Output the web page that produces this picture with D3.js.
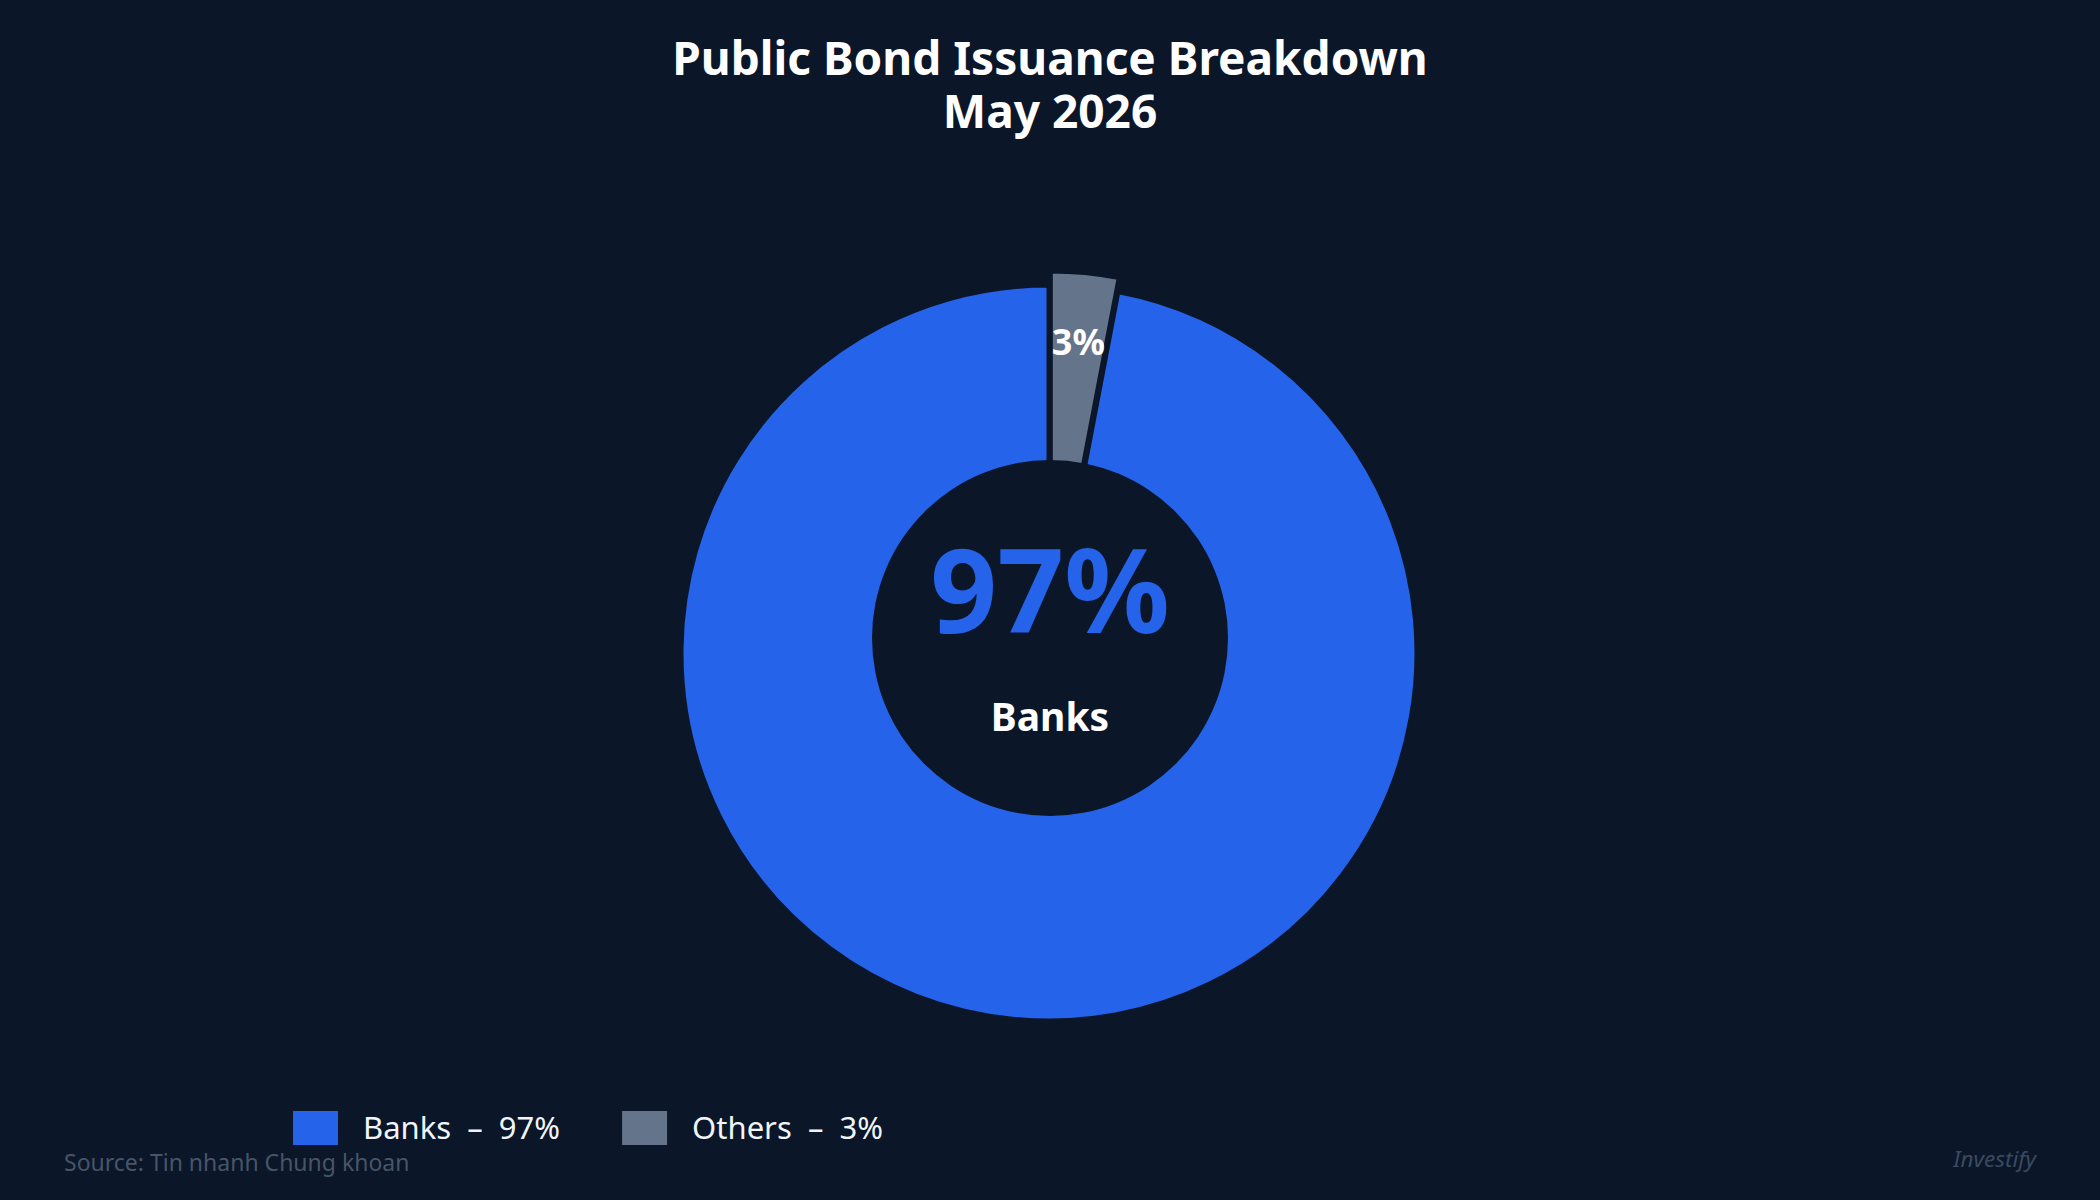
<!DOCTYPE html>
<html>
<head>
<meta charset="utf-8">
<script src="https://cdn.jsdelivr.net/npm/d3@7"></script>
<style>
  html, body { margin: 0; padding: 0; background: #0b1628; }
  svg { display: block; }
  text { font-family: "Noto Sans", "Open Sans", sans-serif; }
</style>
</head>
<body>
<script>
// ---- data ----
const categories = ["Banks", "Others"];
const values = [97, 3];
const colors = ["#2563eb", "#64748b"];
const titleLines = ["Public Bond Issuance Breakdown", "May 2026"];
const centerValue = "97%";
const centerLabel = "Banks";
const sourceText = "Source: Tin nhanh Chung khoan";
const brandText = "Investify";

// ---- layout ----
const W = 2100, H = 1200, BG = "#0b1628";
const cx = 1049, cy = 653, R = 368;
const holeCx = 1050, holeCy = 638, holeR = 178;
const explode = 14;

const svg = d3.select("body").append("svg").attr("width", W).attr("height", H);
svg.append("rect").attr("width", W).attr("height", H).attr("fill", BG);

// title
const title = svg.append("text").attr("text-anchor", "middle")
  .attr("font-size", 46).attr("font-weight", 700).attr("fill", "#ffffff");
title.append("tspan").attr("x", 1050).attr("y", 75).text(titleLines[0]);
title.append("tspan").attr("x", 1050).attr("y", 128).text(titleLines[1]);

const data = categories.map((c, i) => ({ name: c, value: values[i], color: colors[i] }));
const total = d3.sum(values);
const offsetAngle = (values[1] / total) * 2 * Math.PI;
const pie = d3.pie().value(d => d.value).sort(null)
  .startAngle(offsetAngle).endAngle(offsetAngle + 2 * Math.PI);
const arcs = pie(data);
const arc = d3.arc().innerRadius(0).outerRadius(R);
const labelArc = d3.arc().innerRadius(298).outerRadius(298);

const g = svg.append("g").attr("transform", `translate(${cx},${cy})`);
const slices = g.selectAll("g.slice").data(arcs).join("g").attr("class", "slice")
  .attr("transform", d => {
    if (d.data.name === "Others") {
      const a = (d.startAngle + d.endAngle) / 2;
      return `translate(${explode * Math.sin(a)},${-explode * Math.cos(a)})`;
    }
    return null;
  });
slices.append("path").attr("d", arc).attr("fill", d => d.data.color)
  .attr("stroke", BG).attr("stroke-width", 5).attr("stroke-linejoin", "miter");

// hole
svg.append("circle").attr("cx", holeCx).attr("cy", holeCy).attr("r", holeR).attr("fill", BG);

// slice label for small slice
slices.filter(d => d.data.name === "Others").append("text")
  .attr("transform", d => `translate(${labelArc.centroid(d)})`)
  .attr("text-anchor", "middle").attr("dy", "0.35em")
  .attr("font-size", 36).attr("font-weight", 700).attr("fill", "#ffffff")
  .text(d => Math.round(d.value / total * 100) + "%");

// center text
svg.append("text").attr("x", holeCx).attr("y", 633).attr("text-anchor", "middle")
  .attr("font-size", 117).attr("font-weight", 700).attr("fill", colors[0]).text(centerValue);
svg.append("text").attr("x", holeCx).attr("y", 731).attr("text-anchor", "middle")
  .attr("font-size", 39).attr("font-weight", 700).attr("fill", "#ffffff").text(centerLabel);

// legend
const legend = svg.append("g");
let lx = 293;
data.forEach((d, i) => {
  legend.append("rect").attr("x", lx).attr("y", 1111).attr("width", 45).attr("height", 34).attr("fill", d.color);
  const t = legend.append("text").attr("x", lx + 70).attr("y", 1139)
    .attr("font-size", 31).attr("fill", "#f1f5f9").style("white-space", "pre")
    .text(`${d.name}  –  ${Math.round(d.value / total * 100)}%`);
  lx = lx + 70 + t.node().getComputedTextLength() + 62;
});

// source & brand
svg.append("text").attr("x", 64).attr("y", 1171).attr("font-size", 23)
  .attr("fill", "#475569").text(sourceText);
svg.append("text").attr("x", 2036).attr("y", 1167).attr("text-anchor", "end")
  .attr("font-size", 22.5).attr("font-style", "italic").attr("fill", "#3a4a61").text(brandText);
</script>
</body>
</html>
